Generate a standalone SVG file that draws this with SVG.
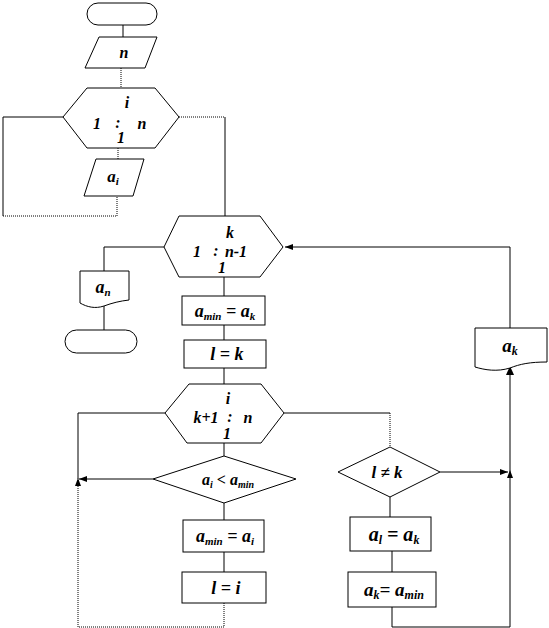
<svg xmlns="http://www.w3.org/2000/svg" width="549" height="628" viewBox="0 0 549 628">
<style>
.s{fill:#fff;stroke:#000;stroke-width:1}
.c{fill:none;stroke:#000;stroke-width:1}
.d{fill:none;stroke:#000;stroke-width:1;stroke-dasharray:1,1}
text{font-family:"Liberation Serif","Times New Roman",serif;font-weight:bold;font-style:italic;font-size:16px;fill:#000}
.m{text-anchor:middle}
.b{font-size:18px}
.sub{font-size:11px}
</style>
<defs>
<marker id="ah" markerWidth="8" markerHeight="6" refX="8" refY="3" orient="auto" markerUnits="userSpaceOnUse">
<path d="M0,0 L8,3 L0,6 Z" fill="#000"/>
</marker>
</defs>
<g id="connectors">
<line class="c" x1="123" y1="25" x2="123" y2="37"/>
<line class="d" x1="121" y1="68" x2="121" y2="88"/>
<line class="d" x1="118" y1="148" x2="118" y2="159"/>
<polyline class="c" points="63,117 3,117 3,216"/>
<polyline class="d" points="3,216 117,216 117,196"/>
<polyline class="d" points="179,117 225,117"/>
<polyline class="c" points="225,117 225,216"/>
<polyline class="c" points="164,247 104,247 104,271"/>
<line class="c" x1="104" y1="306" x2="104" y2="330"/>
<line class="c" x1="224" y1="277" x2="224" y2="296"/>
<line class="c" x1="224" y1="325" x2="224" y2="340"/>
<line class="c" x1="224" y1="368" x2="224" y2="384"/>
<polyline class="c" points="165,413 78,413 78,478"/>
<line class="c" x1="224" y1="443" x2="224" y2="456"/>
<line class="c" x1="153" y1="479" x2="79" y2="479" marker-end="url(#ah)"/>
<polyline class="d" points="224,603 224,627 78,627 78,478"/>
<path d="M75,486 L78,478 L81,486 Z" fill="#000"/>
<line class="c" x1="224" y1="503" x2="224" y2="520"/>
<line class="c" x1="224" y1="552" x2="224" y2="572"/>
<polyline class="c" points="284,413 390,413"/>
<line class="d" x1="390" y1="413" x2="390" y2="447"/>
<line class="c" x1="440" y1="472" x2="508" y2="472" marker-end="url(#ah)"/>
<path d="M507,478 L510,470 L513,478 Z" fill="#000"/>
<line class="c" x1="390" y1="497" x2="390" y2="517"/>
<line class="c" x1="392" y1="551" x2="392" y2="572"/>
<polyline class="c" points="392,607 392,627 510,627 510,365"/>
<path d="M506,375 L510,366 L514,375 Z" fill="#000"/>
<polyline class="c" points="510,328 510,247 285,247" marker-end="url(#ah)"/>
</g>
<g id="start">
<rect class="s" x="87" y="3" width="70" height="22" rx="11"/>
</g>
<g id="input-n">
<polygon class="s" points="99,37 157,37 145,68 85,68"/>
<text class="m" x="124" y="58">n</text>
</g>
<g id="loop-i">
<polygon class="s" points="63,117 87,88 155,88 179,117 155,148 87,148"/>
<text class="m" x="127" y="108">i</text>
<text class="m" x="97" y="129">1</text>
<text class="m" x="118" y="128">:</text>
<text class="m" x="142" y="129">n</text>
<text class="m" x="121" y="143">1</text>
</g>
<g id="input-ai">
<polygon class="s" points="96,159 144,159 133,196 84,196"/>
<text class="m" x="113" y="182" style="font-size:17px">a<tspan class="sub" dy="3">i</tspan></text>
</g>
<g id="loop-k">
<polygon class="s" points="164,247 179,216 260,216 283,247 260,277 179,277"/>
<text class="m" x="230" y="238">k</text>
<text class="m" x="197" y="257">1</text>
<text class="m" x="216" y="256">:</text>
<text class="m" x="236" y="257">n-1</text>
<text class="m" x="222" y="273">1</text>
</g>
<g id="output-an">
<path class="s" d="M80,271 H129 V300 C120,301 112,303 104,306 C95,309 87,307 80,303 Z"/>
<text class="m" x="103" y="293" style="font-size:18px">a<tspan class="sub" dy="3">n</tspan></text>
</g>
<g id="end">
<rect class="s" x="65" y="330" width="72" height="23" rx="11.5"/>
</g>
<g id="amin-ak">
<rect class="s" x="182" y="296" width="83" height="29"/>
<text class="m b" x="225" y="317">a<tspan class="sub" dy="3">min</tspan><tspan dy="-3"> = a</tspan><tspan class="sub" dy="3">k</tspan></text>
</g>
<g id="l-k">
<rect class="s" x="184" y="340" width="82" height="28"/>
<text class="m b" x="227" y="360">l = k</text>
</g>
<g id="loop-i2">
<polygon class="s" points="165,413 189,384 261,384 284,413 261,443 187,443"/>
<text class="m" x="228" y="404">i</text>
<text class="m" x="206" y="423">k+1</text>
<text class="m" x="230" y="422">:</text>
<text class="m" x="248" y="423">n</text>
<text class="m" x="227" y="439">1</text>
</g>
<g id="cond-ai">
<polygon class="s" points="153,479 224,456 296,479 224,503"/>
<text class="m" x="228" y="485" style="font-size:16px">a<tspan class="sub" dy="3" style="font-size:10px">i</tspan><tspan dy="-3"> &lt; a</tspan><tspan class="sub" dy="3" style="font-size:10px">min</tspan></text>
</g>
<g id="amin-ai">
<rect class="s" x="183" y="520" width="81" height="32"/>
<text class="m b" x="225" y="542">a<tspan class="sub" dy="3">min</tspan><tspan dy="-3"> = a</tspan><tspan class="sub" dy="3">i</tspan></text>
</g>
<g id="l-i">
<rect class="s" x="182" y="572" width="84" height="31"/>
<text class="m b" x="226" y="594">l = i</text>
</g>
<g id="cond-lk">
<polygon class="s" points="338,472 390,447 440,472 390,497"/>
<text class="m" x="387" y="478" style="font-size:17px">l ≠ k</text>
</g>
<g id="al-ak">
<rect class="s" x="350" y="517" width="81" height="34"/>
<text class="m" x="394" y="541" style="font-size:20px">a<tspan class="sub" dy="3" style="font-size:12px">l</tspan><tspan dy="-3"> = a</tspan><tspan class="sub" dy="3" style="font-size:12px">k</tspan></text>
</g>
<g id="ak-amin">
<rect class="s" x="348" y="572" width="88" height="35"/>
<text class="m" x="394" y="596" style="font-size:19px">a<tspan class="sub" dy="3" style="font-size:12px">k</tspan><tspan dy="-3">= a</tspan><tspan class="sub" dy="3" style="font-size:12px">min</tspan></text>
</g>
<g id="output-ak">
<path class="s" d="M475,328 H547 V362 C530,362 520,364 510,368 C497,372 485,370 475,367 Z"/>
<text class="m" x="510" y="352" style="font-size:19px">a<tspan class="sub" dy="3" style="font-size:12px">k</tspan></text>
</g>
</svg>
